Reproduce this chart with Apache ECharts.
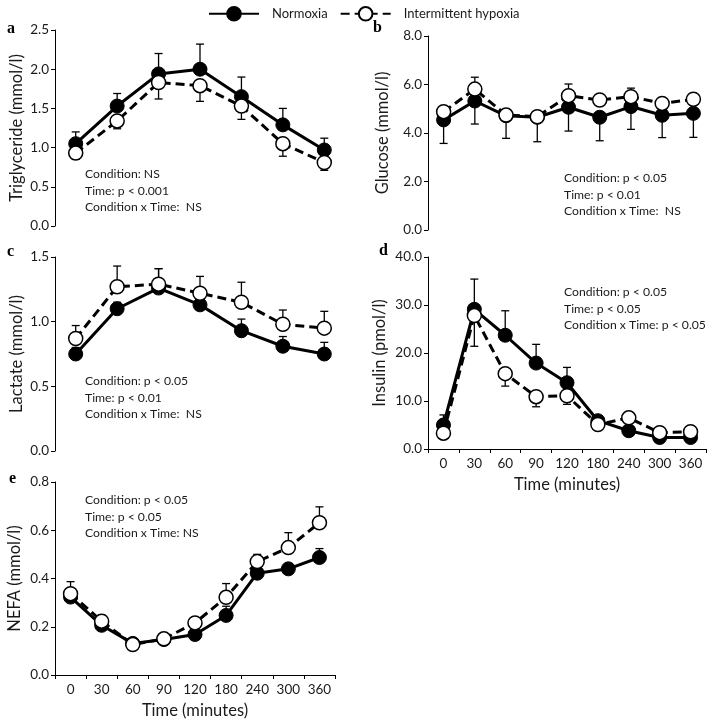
<!DOCTYPE html>
<html>
<head>
<meta charset="utf-8">
<script src="https://cdn.jsdelivr.net/npm/echarts@6/dist/echarts.min.js"></script>
<style>html,body{margin:0;padding:0;background:#fff}#c{width:709px;height:720px}</style>
</head>
<body>
<div id="c"></div>
<script>
// ---------- DATA ----------
const times9 = ['0', '30', '60', '90', '120', '180', '240', '300', '360'];
const times7 = ['0', '60', '120', '180', '240', '300', '360'];   // axis labels not shown in panels a & c

// a: Triglyceride (mmol/l)
const tgNorm = [1.05, 1.53, 1.94, 2.00, 1.65, 1.29, 0.97];
const tgNormErr = [0.15, 0.16, 0.26, 0.32, 0.25, 0.21, 0.15];
const tgHyp = [0.93, 1.34, 1.83, 1.79, 1.53, 1.05, 0.81];
const tgHypErr = [0.08, 0.10, 0.21, 0.20, 0.17, 0.16, 0.10];

// b: Glucose (mmol/l)
const gluNorm = [4.54, 5.32, 4.71, 4.65, 5.06, 4.65, 5.09, 4.73, 4.81];
const gluNormErr = [0.97, 0.95, 0.93, 1.01, 0.98, 0.97, 0.94, 0.92, 0.99];
const gluHyp = [4.88, 5.81, 4.74, 4.67, 5.54, 5.36, 5.50, 5.22, 5.39];
const gluHypErr = [0.20, 0.49, 0.20, 0.20, 0.48, 0.20, 0.35, 0.20, 0.20];

// c: Lactate (mmol/l)
const lacNorm = [0.75, 1.10, 1.26, 1.13, 0.93, 0.81, 0.75];
const lacNormErr = [0.05, 0.05, 0.15, 0.05, 0.09, 0.075, 0.09];
const lacHyp = [0.87, 1.27, 1.29, 1.22, 1.15, 0.98, 0.95];
const lacHypErr = [0.10, 0.16, 0.12, 0.13, 0.155, 0.11, 0.13];

// d: Insulin (pmol/l)
const insNorm = [5.0, 29.1, 23.7, 17.9, 13.8, 5.9, 3.8, 2.4, 2.4];
const insNormErr = [2.1, 6.3, 5.1, 3.9, 3.2, 0.8, 0.8, 0.5, 0.5];
const insHyp = [3.3, 27.8, 15.7, 10.9, 11.1, 5.1, 6.5, 3.4, 3.6];
const insHypErr = [0.5, 6.4, 2.6, 2.1, 1.8, 0.8, 0.8, 0.5, 0.5];

// e: NEFA (mmol/l)
const nefaNorm = [0.323, 0.206, 0.131, 0.147, 0.168, 0.247, 0.422, 0.44, 0.487];
const nefaNormErr = [0.02, 0.02, 0.01, 0.01, 0.015, 0.038, 0.03, 0.02, 0.037];
const nefaHyp = [0.337, 0.223, 0.126, 0.150, 0.216, 0.322, 0.470, 0.528, 0.631];
const nefaHypErr = [0.05, 0.025, 0.01, 0.01, 0.02, 0.057, 0.03, 0.062, 0.066];

const NORM = 'Normoxia';
const HYP = 'Intermittent hypoxia';

// ---------- CHART ----------
const FONT = 'Lato, "Open Sans", sans-serif';
const TXT = '#1a1a1a';

const panels = [
  {cats: times7, n: tgNorm, ne: tgNormErr, nd: 1, h: tgHyp, he: tgHypErr, hd: -1,
   grid: {left: 55, top: 30, width: 290, height: 196}, min: 0, max: 2.5, interval: 0.5, dec: 1,
   yname: 'Triglyceride (mmol/l)', nameGap: 30, showX: false},
  {cats: times9, n: gluNorm, ne: gluNormErr, nd: -1, h: gluHyp, he: gluHypErr, hd: 1,
   grid: {left: 428, top: 36, width: 290, height: 194}, min: 0, max: 8, interval: 2, dec: 1,
   yname: 'Glucose (mmol/l)', nameGap: 37, showX: false},
  {cats: times7, n: lacNorm, ne: lacNormErr, nd: 1, h: lacHyp, he: lacHypErr, hd: 1,
   grid: {left: 55, top: 257, width: 290, height: 194}, min: 0, max: 1.5, interval: 0.5, dec: 1,
   yname: 'Lactate (mmol/l)', nameGap: 30, showX: false},
  {cats: times9, n: insNorm, ne: insNormErr, nd: 1, h: insHyp, he: insHypErr, hd: -1,
   grid: {left: 428, top: 257, width: 278, height: 192}, min: 0, max: 40, interval: 10, dec: 1,
   yname: 'Insulin (pmol/l)', nameGap: 40, showX: true},
  {cats: times9, n: nefaNorm, ne: nefaNormErr, nd: 1, h: nefaHyp, he: nefaHypErr, hd: 1,
   grid: {left: 55, top: 482, width: 280, height: 194}, min: 0, max: 0.8, interval: 0.2, dec: 1,
   yname: 'NEFA (mmol/l)', nameGap: 32, showX: true}
];

function errRender(params, api) {
  const x = api.value(0), m = api.value(1), e = api.value(2), dir = api.value(3);
  const p0 = api.coord([x, m]);
  const p1 = api.coord([x, m + dir * e]);
  const hw = 4;
  const st = {stroke: '#000', lineWidth: 1.3};
  return {type: 'group', children: [
    {type: 'line', shape: {x1: p0[0], y1: p0[1], x2: p1[0], y2: p1[1]}, style: st},
    {type: 'line', shape: {x1: p1[0] - hw, y1: p1[1], x2: p1[0] + hw, y2: p1[1]}, style: st}
  ]};
}

const grids = [], xAxes = [], yAxes = [], series = [];
panels.forEach((p, i) => {
  grids.push(Object.assign({containLabel: false}, p.grid));
  xAxes.push({
    type: 'category', gridIndex: i, data: p.cats, boundaryGap: true,
    axisLine: {show: p.showX, lineStyle: {color: '#000', width: 1}},
    axisTick: {show: p.showX, length: 4, lineStyle: {color: '#000'}},
    axisLabel: {show: p.showX, color: TXT, fontSize: 13.5, fontFamily: FONT, margin: 8},
    name: p.showX ? 'Time (minutes)' : '', nameLocation: 'middle', nameGap: 27,
    nameTextStyle: {color: TXT, fontSize: 16.5, fontFamily: FONT},
    splitLine: {show: false}
  });
  yAxes.push({
    type: 'value', gridIndex: i, min: p.min, max: p.max, interval: p.interval,
    axisLine: {show: true, lineStyle: {color: '#000', width: 1}},
    axisTick: {show: true, length: 4, lineStyle: {color: '#000'}},
    axisLabel: {color: TXT, fontSize: 13.5, fontFamily: FONT, margin: 6,
      formatter: v => v.toFixed(p.dec)},
    splitLine: {show: false},
    name: p.yname, nameLocation: 'middle', nameGap: p.nameGap, nameRotate: 90,
    nameTextStyle: {color: TXT, fontSize: 16.5, fontFamily: FONT}
  });
  // error bars
  series.push({
    type: 'custom', xAxisIndex: i, yAxisIndex: i, z: 1, silent: true,
    renderItem: errRender, encode: {x: 0, y: 1},
    data: p.n.map((v, k) => [k, v, p.ne[k], p.nd])
  });
  series.push({
    type: 'custom', xAxisIndex: i, yAxisIndex: i, z: 1, silent: true,
    renderItem: errRender, encode: {x: 0, y: 1},
    data: p.h.map((v, k) => [k, v, p.he[k], p.hd])
  });
  series.push({
    name: NORM, type: 'line', xAxisIndex: i, yAxisIndex: i, z: 3,
    data: p.n, symbol: 'circle', symbolSize: 14,
    lineStyle: {color: '#000', width: 3},
    itemStyle: {color: '#000', borderColor: '#000', borderWidth: 1}
  });
  series.push({
    name: HYP, type: 'line', xAxisIndex: i, yAxisIndex: i, z: 4,
    data: p.h, symbol: 'circle', symbolSize: 14,
    lineStyle: {color: '#000', width: 3, type: [9, 5]},
    itemStyle: {color: '#fff', borderColor: '#000', borderWidth: 1.5}
  });
});

const letters = [['a', 7, 21], ['b', 373, 20], ['c', 7, 244], ['d', 379, 243], ['e', 9, 471]];
const notes = [
  [85, 166, 'Condition: NS\nTime: p < 0.001\nCondition x Time:  NS'],
  [564, 170, 'Condition: p < 0.05\nTime: p < 0.01\nCondition x Time:  NS'],
  [85, 373, 'Condition: p < 0.05\nTime: p < 0.01\nCondition x Time:  NS'],
  [564, 284, 'Condition: p < 0.05\nTime: p < 0.05\nCondition x Time: p < 0.05'],
  [85, 492, 'Condition: p < 0.05\nTime: p < 0.05\nCondition x Time: NS']
];
const graphic = [];
letters.forEach(l => graphic.push({type: 'text', left: l[1], top: l[2],
  style: {text: l[0], fill: '#000', font: 'bold 16px "Liberation Serif", serif'}}));
notes.forEach(n => graphic.push({type: 'text', left: n[0], top: n[1],
  style: {text: n[2], fill: TXT, fontSize: 12.2, fontFamily: FONT, lineHeight: 16.5}}));

const chart = echarts.init(document.getElementById('c'), null, {renderer: 'canvas'});
chart.setOption({
  animation: false,
  backgroundColor: '#fff',
  legend: {
    data: [NORM, HYP], left: 203, top: 1, itemWidth: 50, itemHeight: 17, itemGap: 12,
    textStyle: {color: TXT, fontSize: 13, fontFamily: FONT, padding: [0, 0, 0, 8]},
    selectedMode: false
  },
  grid: grids, xAxis: xAxes, yAxis: yAxes, series: series, graphic: graphic
});
</script>
</body>
</html>
